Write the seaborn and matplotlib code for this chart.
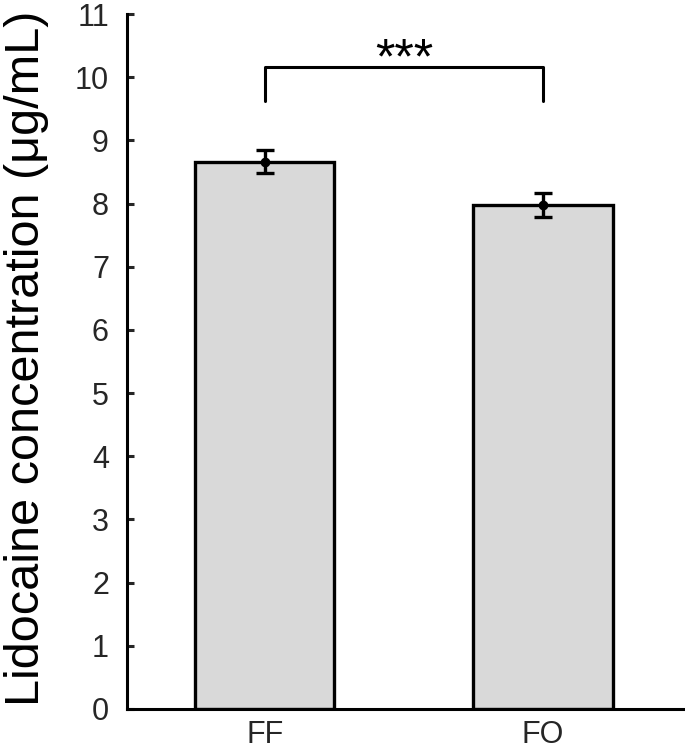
import matplotlib
matplotlib.use("Agg")
import matplotlib.pyplot as plt
import seaborn as sns
import pandas as pd
import numpy as np

categories = ["FF", "FO"]
means = [8.66, 7.97]
errors = [0.18, 0.19]
y_ticks = list(range(0, 12))
sig_label = "***"
sig_height = 10.16
sig_drop = 9.62

sns.set_theme(style="ticks")
plt.rcParams["font.family"] = ["Liberation Sans", "DejaVu Sans"]

df = pd.DataFrame({"group": categories, "value": means})

fig = plt.figure(figsize=(6.85, 7.56), dpi=100)
ax = fig.add_axes([127/685, 47/756, 558/685, 695/756])

sns.barplot(data=df, x="group", y="value", ax=ax, color="#d9d9d9",
            edgecolor="black", linewidth=2.4, width=0.5, errorbar=None,
            saturation=1)

xpos = np.arange(len(categories))
ax.errorbar(xpos, means, yerr=errors, fmt="o", color="black", ms=6,
            elinewidth=2.4, capsize=6.5, capthick=2.4, zorder=5)

# significance bracket
ax.plot([xpos[0], xpos[0], xpos[1], xpos[1]],
        [sig_drop, sig_height, sig_height, sig_drop],
        color="black", lw=2.2, clip_on=False)
ax.text((xpos[0] + xpos[1]) / 2, 9.9, sig_label,
        ha="center", va="bottom", fontsize=36, color="black")

ax.set_ylim(0, 11)
ax.set_xlim(-0.495, 1.51)
ax.set_yticks(y_ticks)
ax.set_yticklabels([str(t) for t in y_ticks])
ax.set_xlabel("")
ax.set_ylabel("Lidocaine concentration (μg/mL)", fontsize=35, color="black")
ax.yaxis.set_label_coords(-0.14, 0.505)

for s in ["top", "right"]:
    ax.spines[s].set_visible(False)
for s in ["left", "bottom"]:
    ax.spines[s].set_linewidth(2.2)
    ax.spines[s].set_color("black")

ax.tick_params(axis="y", direction="in", length=5, width=2.2, labelsize=22,
               labelcolor="#262626", pad=13)
ax.tick_params(axis="x", direction="in", length=4, width=1.5, labelsize=22,
               labelcolor="#262626", pad=8)

fig.savefig("out.png", dpi=100)
